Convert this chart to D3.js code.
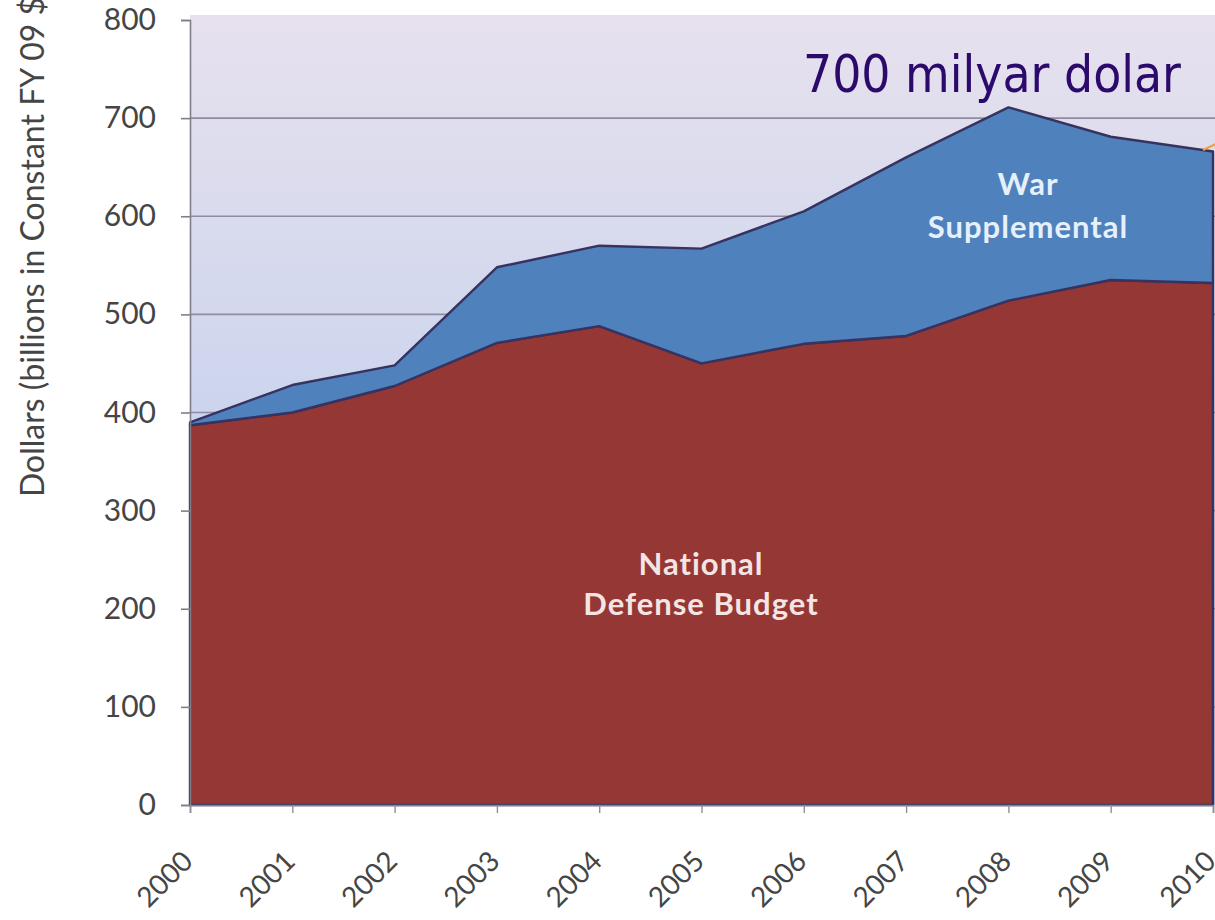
<!DOCTYPE html>
<html>
<head>
<meta charset="utf-8">
<script src="https://cdn.jsdelivr.net/npm/d3@7"></script>
<style>
  html, body { margin: 0; padding: 0; background: #ffffff; }
  svg { display: block; }
</style>
</head>
<body>
<svg id="chart" width="1215" height="920"></svg>
<script>
// Fiscal years on the category axis
const years = ["2000","2001","2002","2003","2004","2005","2006","2007","2008","2009","2010"];
// Base national defense budget, billions of constant FY09 dollars
const defenseBudget = [387, 400, 427, 471, 488, 450, 470, 478, 514, 535, 532];
// War supplemental funding stacked on top of the base budget
const warSupplemental = [3, 28, 21, 77, 82, 117, 135, 182, 197, 146, 134];
// Value axis ticks
const yTicks = [0, 100, 200, 300, 400, 500, 600, 700, 800];

const seriesKeys = ["defense", "war"];
const table = years.map((yr, i) => ({ year: yr, defense: defenseBudget[i], war: warSupplemental[i] }));

const svg = d3.select("#chart");
const plotLeft = 190, plotRight = 1213, plotTop = 20, plotBottom = 805;

const x = d3.scalePoint().domain(years).range([plotLeft, plotRight]);
const y = d3.scaleLinear().domain([0, 800]).range([plotBottom, plotTop]);

// Plot-area background gradient
const defs = svg.append("defs");
const grad = defs.append("linearGradient").attr("id", "plotBg")
  .attr("x1", 0).attr("y1", 0).attr("x2", 0).attr("y2", 1);
grad.append("stop").attr("offset", "0%").attr("stop-color", "#e7e1ee");
grad.append("stop").attr("offset", "50%").attr("stop-color", "#ccd5ed");
grad.append("stop").attr("offset", "100%").attr("stop-color", "#b9c8ea");

svg.append("rect")
  .attr("x", plotLeft).attr("y", 15)
  .attr("width", 1215 - plotLeft).attr("height", plotBottom - 15)
  .attr("fill", "url(#plotBg)");

// Horizontal gridlines
svg.append("g")
  .selectAll("line")
  .data(yTicks.filter(d => d > 0 && d < 800))
  .join("line")
  .attr("x1", plotLeft).attr("x2", 1215)
  .attr("y1", d => y(d)).attr("y2", d => y(d))
  .attr("stroke", "#8d8ca2").attr("stroke-width", 1.6);

// Stacked areas
const stacked = d3.stack().keys(seriesKeys)(table);
const area = d3.area()
  .x(d => x(d.data.year))
  .y0(d => y(d[0]))
  .y1(d => y(d[1]));
const colors = { defense: "#953735", war: "#4f81bd" };

svg.append("g")
  .selectAll("path")
  .data(stacked)
  .join("path")
  .attr("d", area)
  .attr("fill", d => colors[d.key])
  .attr("stroke", "#37325f")
  .attr("stroke-width", 2.4)
  .attr("stroke-linejoin", "round");

// Axes
const fontAxis = "Lato, 'Open Sans', sans-serif";
const yAxis = svg.append("g")
  .attr("transform", `translate(${plotLeft},0)`)
  .call(d3.axisLeft(y).tickValues(yTicks).tickSize(9).tickPadding(25));
yAxis.select(".domain").attr("stroke", "#7f7f8a").attr("stroke-width", 1.6);
yAxis.selectAll(".tick line").attr("stroke", "#7f7f8a").attr("stroke-width", 1.6);
yAxis.selectAll("text")
  .attr("font-family", fontAxis).attr("font-size", 30).attr("fill", "#454545");

const xAxis = svg.append("g")
  .attr("transform", `translate(0,${plotBottom})`)
  .call(d3.axisBottom(x).tickSize(8).tickPadding(0));
xAxis.select(".domain").attr("stroke", "#7f7f8a").attr("stroke-width", 1.6);
xAxis.selectAll(".tick line").attr("stroke", "#8f8f98").attr("stroke-width", 1.4);
xAxis.selectAll("text")
  .attr("font-family", fontAxis).attr("font-size", 28).attr("fill", "#454545")
  .attr("text-anchor", "end")
  .attr("dy", 0)
  .attr("y", 0)
  .attr("transform", "translate(4,58) rotate(-45)");

// Value axis title (runs past the top edge)
svg.append("text")
  .attr("transform", "translate(44,497) rotate(-90)")
  .attr("font-family", fontAxis).attr("font-size", 32).attr("fill", "#454545")
  .text("Dollars (billions in Constant FY 09 $)");

// Series labels inside the areas
const inLabel = (lines, cx, ys, fill) => {
  lines.forEach((t, i) => {
    svg.append("text")
      .attr("x", cx).attr("y", ys[i])
      .attr("text-anchor", "middle")
      .attr("font-family", fontAxis).attr("font-weight", "bold").attr("font-size", 31)
      .attr("letter-spacing", 1)
      .attr("fill", fill)
      .text(t);
  });
};
inLabel(["National", "Defense Budget"], 701, [575, 615], "#f4e4e4");
inLabel(["War", "Supplemental"], 1028, [195, 238], "#e6f0fa");

// Headline
svg.append("text")
  .attr("x", 803).attr("y", 92)
  .attr("font-family", "'DejaVu Sans', Verdana, sans-serif")
  .attr("font-stretch", "condensed")
  .attr("font-size", 51)
  .attr("fill", "#2b0a6c")
  .text("700 milyar dolar");

// Callout pointer entering from the right edge
svg.append("line")
  .attr("x1", 1203).attr("y1", 150).attr("x2", 1220).attr("y2", 142)
  .attr("stroke", "#f0a030").attr("stroke-width", 2);
</script>
</body>
</html>
